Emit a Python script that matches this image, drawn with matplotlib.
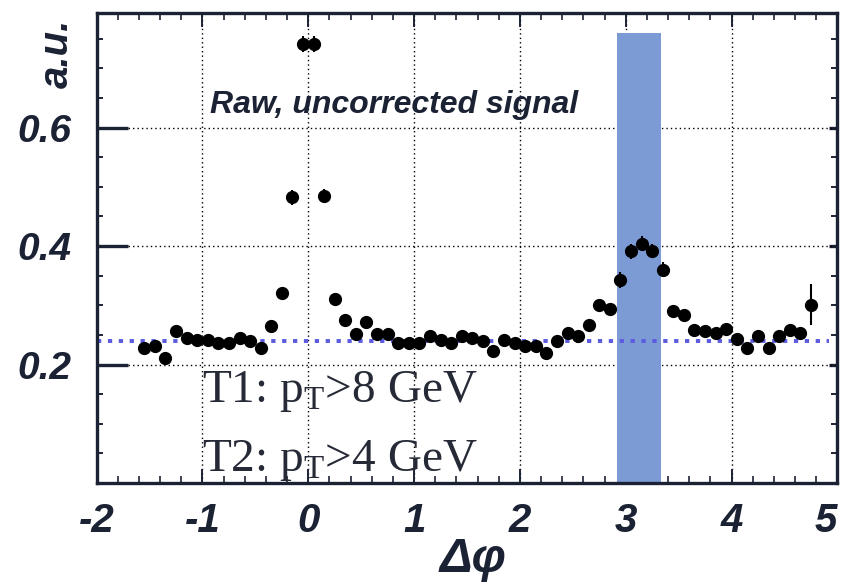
import numpy as np
import matplotlib.pyplot as plt
from matplotlib.ticker import MultipleLocator, FixedLocator

# raw correlation points (delta phi, a.u.)
dphi = [-1.55, -1.45, -1.35, -1.25, -1.15, -1.05, -0.95, -0.85, -0.75, -0.65,
        -0.55, -0.45, -0.35, -0.25, -0.15, -0.05, 0.05, 0.15, 0.25, 0.35,
        0.45, 0.55, 0.65, 0.75, 0.85, 0.95, 1.05, 1.15, 1.25, 1.35,
        1.45, 1.55, 1.65, 1.75, 1.85, 1.95, 2.05, 2.15, 2.25, 2.35,
        2.45, 2.55, 2.65, 2.75, 2.85, 2.95, 3.05, 3.15, 3.25, 3.35,
        3.45, 3.55, 3.65, 3.75, 3.85, 3.95, 4.05, 4.15, 4.25, 4.35,
        4.45, 4.55, 4.65, 4.75]
signal = [0.228, 0.231, 0.211, 0.256, 0.245, 0.242, 0.242, 0.237, 0.237, 0.245,
          0.239, 0.228, 0.265, 0.321, 0.482, 0.741, 0.741, 0.485, 0.310, 0.276,
          0.252, 0.271, 0.251, 0.252, 0.237, 0.237, 0.237, 0.248, 0.242, 0.237,
          0.248, 0.245, 0.239, 0.222, 0.242, 0.237, 0.231, 0.231, 0.220, 0.239,
          0.253, 0.248, 0.267, 0.300, 0.293, 0.343, 0.391, 0.404, 0.392, 0.360,
          0.290, 0.284, 0.259, 0.256, 0.253, 0.260, 0.243, 0.228, 0.248, 0.228,
          0.248, 0.259, 0.253, 0.301]
err = [0.007, 0.007, 0.007, 0.007, 0.007, 0.007, 0.007, 0.007, 0.007, 0.007,
       0.007, 0.007, 0.008, 0.009, 0.012, 0.013, 0.013, 0.012, 0.010, 0.008,
       0.007, 0.008, 0.007, 0.007, 0.007, 0.007, 0.007, 0.007, 0.007, 0.007,
       0.007, 0.007, 0.007, 0.007, 0.007, 0.007, 0.007, 0.007, 0.007, 0.007,
       0.007, 0.007, 0.008, 0.008, 0.008, 0.013, 0.012, 0.013, 0.012, 0.013,
       0.008, 0.008, 0.007, 0.007, 0.007, 0.007, 0.008, 0.008, 0.008, 0.008,
       0.008, 0.008, 0.009, 0.035]

pedestal = 0.24
band_lo, band_hi, band_top = 2.92, 3.33, 0.76

navy = '#1b2234'

fig = plt.figure(figsize=(8.45, 5.88), dpi=100)
ax = fig.add_axes([0.1144, 0.1786, 0.8765, 0.7988])

# away-side window
ax.fill_between([band_lo, band_hi], 0, band_top, color='#7c9ad4', lw=0, zorder=1)

# pedestal level
ax.plot([-2, 4.92], [pedestal, pedestal], color='#5b5be0', lw=2.8,
        dashes=(1.1, 1.7), zorder=2)

ax.errorbar(dphi, signal, yerr=err, fmt='o', color='black', ms=8.5,
            elinewidth=1.5, capsize=0, zorder=4)

ax.set_xlim(-2, 5)
ax.set_ylim(0, 0.793)

ax.xaxis.set_major_locator(MultipleLocator(1))
ax.xaxis.set_minor_locator(MultipleLocator(0.2))
ax.yaxis.set_major_locator(FixedLocator([0.2, 0.4, 0.6]))
ax.yaxis.set_minor_locator(MultipleLocator(0.05))

ax.grid(True, which='major', color='black', lw=1.0, linestyle=(0, (1, 2.2)))
ax.set_axisbelow(True)

for s in ax.spines.values():
    s.set_linewidth(2.4)
    s.set_color(navy)

tick_font = dict(family=['Liberation Sans', 'DejaVu Sans'], weight='bold',
                 style='italic')
ax.tick_params(axis='x', which='major', direction='in', top=True, length=10,
               width=1.4, color=navy, pad=14)
ax.tick_params(axis='x', which='minor', direction='in', top=True, length=5,
               width=1.2, color=navy)
ax.tick_params(axis='y', which='major', direction='in', right=False, length=22,
               width=2.4, color=navy, pad=18)
ax.tick_params(axis='y', which='minor', direction='in', right=False, length=4,
               width=1.4, color=navy)
ax.set_xticks(range(-2, 6))
ax.set_xticklabels([str(v) for v in range(-2, 6)], color=navy, size=29,
                   **tick_font)
ax.set_yticklabels(['0.2', '0.4', '0.6'], color=navy, size=28, **tick_font)
ax.get_xticklabels()[-1].set_ha('right')

# right side ticks are shorter
sec = ax.secondary_yaxis('right')
sec.yaxis.set_major_locator(FixedLocator([0.2, 0.4, 0.6]))
sec.yaxis.set_minor_locator(MultipleLocator(0.05))
sec.tick_params(which='major', direction='in', length=6, width=2.4, color=navy)
sec.tick_params(which='minor', direction='in', length=4, width=1.4, color=navy)
sec.set_yticklabels([])
sec.spines['right'].set_visible(False)

ax.text(-0.93, 0.638, 'Raw, uncorrected signal', fontsize=23, weight='bold',
        style='italic', family=['Liberation Sans', 'DejaVu Sans'], color=navy,
        va='center', ha='left', zorder=5)

plt.rcParams['mathtext.fontset'] = 'custom'
plt.rcParams['mathtext.rm'] = 'Liberation Serif'
ax.text(-1.0, 0.136, r'T1: p$_\mathrm{T}$>8 GeV', fontsize=34,
        family='Liberation Serif', color='#262a36', va='baseline', ha='left',
        clip_on=False, zorder=5)
ax.text(-1.0, 0.020, r'T2: p$_\mathrm{T}$>4 GeV', fontsize=34,
        family='Liberation Serif', color='#262a36', va='baseline', ha='left',
        clip_on=False, zorder=5)

fig.text(473 / 845, 1 - 559 / 588, 'Δφ', fontsize=35, weight='bold',
         style='italic', family=['Liberation Sans', 'DejaVu Sans'], color=navy,
         ha='center', va='center')
fig.text(57 / 845, 1 - 53 / 588, 'a.u.', fontsize=29, weight='bold',
         style='italic', family=['Liberation Sans', 'DejaVu Sans'], color=navy,
         ha='center', va='center', rotation=90)

fig.savefig('out.png', dpi=100)
